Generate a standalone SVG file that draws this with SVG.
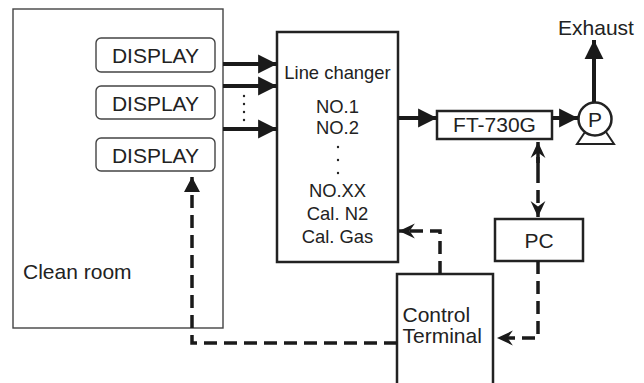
<svg xmlns="http://www.w3.org/2000/svg" width="644" height="383" viewBox="0 0 644 383">
<defs>
<style>
text{font-family:"Liberation Sans",Arial,sans-serif;fill:#222;font-size:21px}
.lc{font-size:18.4px;text-anchor:middle}
.mid{text-anchor:middle}
.thin{fill:#fff;stroke:#444;stroke-width:1.4}
.box{fill:#fff;stroke:#222;stroke-width:2.5}
.thick{fill:none;stroke:#1a1a1a;stroke-width:4}
.dash{fill:none;stroke:#1a1a1a;stroke-width:3.5;stroke-dasharray:13 7}
</style>
<marker id="ah" markerUnits="userSpaceOnUse" markerWidth="20" markerHeight="20" viewBox="-17 -9 18 18" refX="0" refY="0" orient="auto">
<path d="M0,0 L-17,-8.5 L-17,8.5 Z" fill="#1a1a1a"/>
</marker>
<marker id="dh" markerUnits="userSpaceOnUse" markerWidth="18" markerHeight="18" viewBox="-16 -8 17 16" refX="0" refY="0" orient="auto">
<path d="M0,0 L-15,-7 L-10,0 L-15,7 Z" fill="#1a1a1a"/>
</marker>
<marker id="th" markerUnits="userSpaceOnUse" markerWidth="18" markerHeight="18" viewBox="-16 -9 17 18" refX="0" refY="0" orient="auto">
<path d="M0,0 L-15,-8 L-15,8 Z" fill="#1a1a1a"/>
</marker>
</defs>

<g id="clean-room">
<rect class="thin" x="13" y="9" width="210" height="319"/>
<text x="23" y="279">Clean room</text>
</g>
<g id="display1">
<rect class="thin" x="96" y="38" width="119" height="34" rx="5"/>
<text class="mid" x="155.5" y="63">DISPLAY</text>
</g>
<g id="display2">
<rect class="thin" x="96" y="86" width="119" height="33" rx="5"/>
<text class="mid" x="155.5" y="110.5">DISPLAY</text>
</g>
<g id="display3">
<rect class="thin" x="96" y="138" width="119" height="33" rx="5"/>
<text class="mid" x="155.5" y="162.5">DISPLAY</text>
</g>
<g id="line-changer">
<rect class="box" x="277" y="32" width="121" height="230"/>
<text class="lc" x="337.5" y="79">Line changer</text>
<text class="lc" x="337.5" y="112.5">NO.1</text>
<text class="lc" x="337.5" y="134">NO.2</text>
<circle cx="338" cy="147" r="1.2" fill="#222"/>
<circle cx="338" cy="160" r="1.2" fill="#222"/>
<circle cx="338" cy="173" r="1.2" fill="#222"/>
<text class="lc" x="337.5" y="197">NO.XX</text>
<text class="lc" x="337.5" y="220">Cal. N2</text>
<text class="lc" x="337.5" y="243">Cal. Gas</text>
</g>
<g id="ft-730g">
<rect class="box" x="437" y="111" width="115" height="28"/>
<text class="mid" x="494.5" y="132">FT-730G</text>
</g>
<g id="pump">
<path d="M585,132 L577,144 L614,144 L606,132" fill="#fff" stroke="#222" stroke-width="2"/>
<circle cx="595" cy="119" r="16.5" fill="#fff" stroke="#222" stroke-width="2.5"/>
<text class="mid" x="595" y="126.5">P</text>
</g>
<g id="exhaust">
<text class="mid" x="596" y="35">Exhaust</text>
</g>
<g id="pc">
<rect class="box" x="495" y="219" width="88" height="42"/>
<text class="mid" x="539" y="247.5">PC</text>
</g>
<g id="control-terminal">
<rect class="box" x="397" y="274" width="96" height="130"/>
<text x="402.5" y="322">Control</text>
<text x="402.5" y="343">Terminal</text>
</g>

<g id="connectors">
<line class="thick" x1="223" y1="64" x2="277" y2="64" marker-end="url(#ah)"/>
<line class="thick" x1="223" y1="86" x2="277" y2="86" marker-end="url(#ah)"/>
<line class="thick" x1="223" y1="129" x2="277" y2="129" marker-end="url(#ah)"/>
<g fill="#222">
<circle cx="244" cy="96" r="1.2"/><circle cx="244" cy="104" r="1.2"/><circle cx="244" cy="112" r="1.2"/><circle cx="244" cy="120" r="1.2"/>
</g>
<line class="thick" x1="398" y1="118" x2="437" y2="118" marker-end="url(#ah)"/>
<line class="thick" x1="552" y1="118" x2="578" y2="118" marker-end="url(#ah)"/>
<line class="thick" x1="594" y1="102" x2="594" y2="40" marker-end="url(#ah)"/>
<path class="dash" d="M538,170 L538,142" marker-end="url(#dh)"/>
<path class="dash" d="M538,150 L538,217" marker-end="url(#dh)"/>
<path class="dash" d="M538,261 L538,338 L497,338" marker-end="url(#dh)"/>
<path class="dash" d="M440,274 L440,231 L399,231" marker-end="url(#dh)"/>
<path class="dash" d="M397,343 L192,343 L192,177" marker-end="url(#th)"/>
</g>
</svg>
